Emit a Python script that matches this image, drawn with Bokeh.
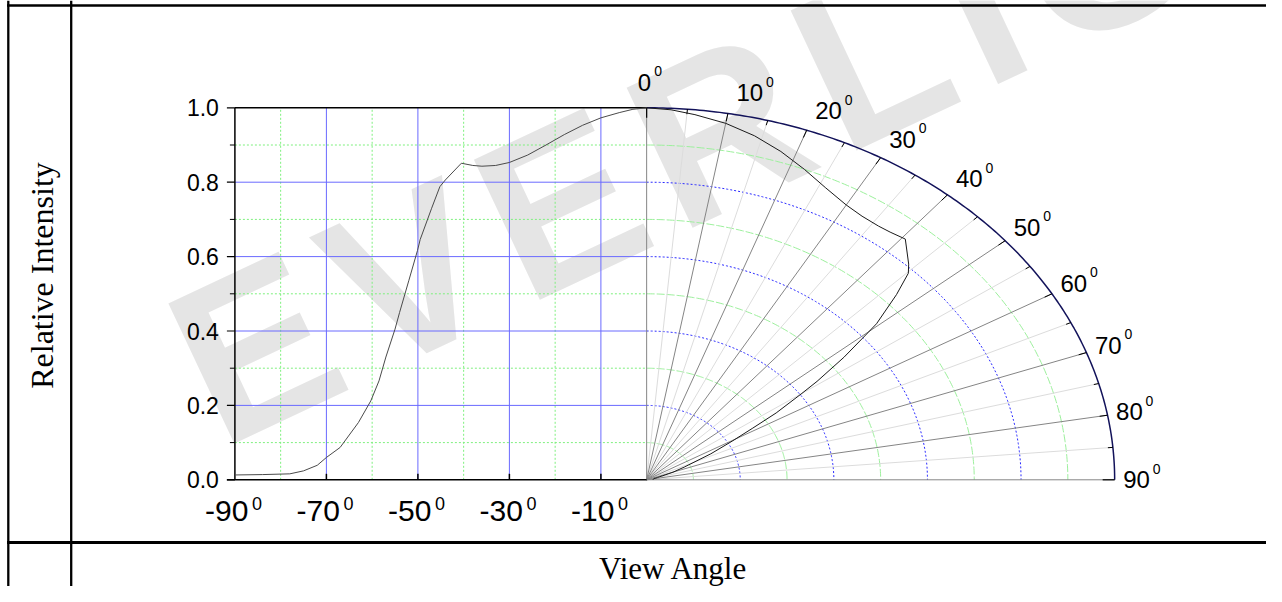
import numpy as np
from bokeh.plotting import figure
from bokeh.models import Range1d
from bokeh.core.properties import value
from bokeh.embed import file_html
from bokeh.resources import INLINE

# ---------------- data ----------------
angle_deg = [0, 3, 6, 10, 14, 18, 22, 26, 30, 33, 36, 38, 40.5, 44, 45.2, 47,
             49.5, 50.1, 52, 54, 55, 57, 58.5, 60.3, 63, 67, 70, 72, 75, 78, 84, 90]
intensity = [1.000, 0.996, 0.987, 0.973, 0.953, 0.928, 0.900, 0.873, 0.853, 0.845,
             0.843, 0.845, 0.851, 0.806, 0.788, 0.730, 0.646, 0.616, 0.535, 0.450,
             0.405, 0.330, 0.266, 0.212, 0.154, 0.087, 0.060, 0.039, 0.024, 0.016,
             0.014, 0.013]

y_ticks = [0.0, 0.2, 0.4, 0.6, 0.8, 1.0]
y_tick_labels = ["0.0", "0.2", "0.4", "0.6", "0.8", "1.0"]
y_minor = [0.1, 0.3, 0.5, 0.7, 0.9]
x_ticks = [-90, -70, -50, -30, -10]
x_tick_labels = ["-90", "-70", "-50", "-30", "-10"]
x_minor = [-80, -60, -40, -20]
polar_angles = [0, 10, 20, 30, 40, 50, 60, 70, 80, 90]
polar_labels = ["0", "10", "20", "30", "40", "50", "60", "70", "80", "90"]
polar_minor = [5, 15, 25, 35, 45, 55, 65, 75, 85]
rings_major = [0.2, 0.4, 0.6, 0.8]
rings_minor = [0.1, 0.3, 0.5, 0.7, 0.9]
degree_mark = "0"
y_title = "Relative Intensity"
x_title = "View Angle"
watermark = "EVERLIGHT"

# ---------------- layout ----------------
W, H = 1266, 586
SX = 4.575          # px per degree (cartesian part)
SY = 372.0          # px per intensity unit
X90_PX = 234.4      # x pixel of -90
Y1_PX = 107.3       # y pixel of 1.0
RX = 468.0          # polar horizontal radius, px
KX = RX / SX        # polar horizontal radius in data units

x_start = -90 - X90_PX / SX
x_end = x_start + W / SX
y_end = 1 + Y1_PX / SY
y_start = y_end - H / SY


def px2x(px):
    return x_start + px / SX


def px2y(py):
    return y_end - py / SY


p = figure(width=W, height=H, output_backend="svg", toolbar_location=None,
           x_range=Range1d(x_start, x_end), y_range=Range1d(y_start, y_end),
           x_axis_location=None, y_axis_location=None, title=None,
           min_border=0, outline_line_color=None)
p.grid.visible = False
p.background_fill_color = "white"
p.border_fill_color = "white"

SANS = value("Liberation Sans")
SERIF = value("Liberation Serif")
MID = "middle"

# watermark
p.text(x=[px2x(187)], y=[px2y(379)], text=["\u200a".join(watermark)], angle=0.44,
       text_font=SANS, text_font_style="bold", text_font_size="225px",
       text_color="#e5e5e5", text_align="left", text_baseline=MID)

# ---------------- cartesian grid ----------------
p.segment(x0=x_minor, y0=[0] * len(x_minor), x1=x_minor, y1=[1] * len(x_minor),
          line_color="#7ef07e", line_width=1, line_dash="2 2")
p.segment(x0=[-90] * len(y_minor), y0=y_minor, x1=[0] * len(y_minor), y1=y_minor,
          line_color="#7ef07e", line_width=1, line_dash="2 2")
xb = x_ticks[1:]
p.segment(x0=xb, y0=[0] * len(xb), x1=xb, y1=[1] * len(xb),
          line_color="#6a6aff", line_width=1)
yb = y_ticks[1:-1]
p.segment(x0=[-90] * len(yb), y0=yb, x1=[0] * len(yb), y1=yb,
          line_color="#6a6aff", line_width=1)

# ---------------- polar grid ----------------
th = np.radians(np.linspace(0, 90, 181))
p.multi_line(xs=[list(KX * r * np.sin(th)) for r in rings_minor],
             ys=[list(r * np.cos(th)) for r in rings_minor],
             line_color="#9cf09c", line_width=1, line_dash="8 2")
p.multi_line(xs=[list(KX * r * np.sin(th)) for r in rings_major],
             ys=[list(r * np.cos(th)) for r in rings_major],
             line_color="#2a2aff", line_width=1, line_dash="2 2")
pm = np.radians(polar_minor)
p.segment(x0=[0] * len(pm), y0=[0] * len(pm), x1=list(KX * np.sin(pm)), y1=list(np.cos(pm)),
          line_color="#dcdcdc", line_width=1)
pa = np.radians(polar_angles)
p.segment(x0=[0] * len(pa), y0=[0] * len(pa), x1=list(KX * np.sin(pa)), y1=list(np.cos(pa)),
          line_color="#858585", line_width=1)
p.line(x=list(KX * np.sin(th)), y=list(np.cos(th)), line_color="#12125a", line_width=1.5)


def arc_ticks(angles, length):
    a = np.radians(angles)
    px_ = RX * np.sin(a)
    py_ = SY * np.cos(a)
    n = np.hypot(px_, py_)
    ix = px_ - length * px_ / n
    iy = py_ - length * py_ / n
    return list(px_ / SX), list(py_ / SY), list(ix / SX), list(iy / SY)


x0t, y0t, x1t, y1t = arc_ticks(polar_angles[1:-1], 8)
p.segment(x0=x0t, y0=y0t, x1=x1t, y1=y1t, line_color="black", line_width=1)
x0t, y0t, x1t, y1t = arc_ticks(polar_minor, 5)
p.segment(x0=x0t, y0=y0t, x1=x1t, y1=y1t, line_color="black", line_width=1)
# 0 and 90 degree end ticks
p.segment(x0=[0, KX], y0=[1, 0], x1=[0, KX - 12 / SX], y1=[1 - 10 / SY, 0],
          line_color="black", line_width=1.2)

# ---------------- cartesian frame and ticks ----------------
p.segment(x0=[-90, -90, -90 - 8 / SX], y0=[0, 1, 0], x1=[-90, 0, 0], y1=[1, 1, 0],
          line_color="black", line_width=1.5)
p.segment(x0=[-90] * len(y_ticks), y0=y_ticks, x1=[-90 - 8 / SX] * len(y_ticks), y1=y_ticks,
          line_color="black", line_width=1.2)
p.segment(x0=[-90] * len(y_minor), y0=y_minor, x1=[-90 - 5 / SX] * len(y_minor), y1=y_minor,
          line_color="black", line_width=1)
p.segment(x0=xb, y0=[0] * len(xb), x1=xb, y1=[6 / SY] * len(xb),
          line_color="black", line_width=1.5)

# ---------------- curves ----------------
ang = np.radians(angle_deg)
inten = np.array(intensity)
p.line(x=[-a for a in angle_deg], y=intensity, line_color="#4a4a4a", line_width=1)
p.line(x=list(KX * inten * np.sin(ang)), y=list(inten * np.cos(ang)),
       line_color="#1a1a1a", line_width=1)

# ---------------- tick labels ----------------
p.text(x=[-90] * len(y_ticks), y=y_ticks, text=y_tick_labels,
       text_font=SANS, text_font_size="23px", text_align="right",
       text_baseline=MID, x_offset=-16, y_offset=0, text_color="black")

p.text(x=x_ticks, y=[0] * len(x_ticks), text=x_tick_labels, text_font=SANS,
       text_font_size="30px", text_align="right", text_baseline=MID,
       x_offset=13.5, y_offset=31.2, text_color="black")
p.text(x=x_ticks, y=[0] * len(x_ticks), text=[degree_mark] * len(x_ticks), text_font=SANS,
       text_font_size="18px", text_align="left", text_baseline=MID,
       x_offset=17, y_offset=24.1, text_color="black")

# polar labels
lx, ly, nx_off, ny_off, sx_off, sy_off = [], [], [], [], [], []
for a, lab in zip(polar_angles, polar_labels):
    r = np.radians(a)
    lx.append(KX * np.sin(r))
    ly.append(np.cos(r))
    if a == 0:
        xo, cy = -9.0, -25.7
    else:
        xo, cy = 8.5, -21.0 * np.cos(r)
    nx_off.append(xo)
    ny_off.append(cy)
    w = 13.0 if len(lab) == 1 else 26.0
    sx_off.append(xo + w + 3.5)
    sy_off.append(cy - 11.0)

p.text(x=lx, y=ly, text=polar_labels, text_font=SANS, text_font_size="24px",
       text_align="left", text_baseline=MID, x_offset=nx_off, y_offset=ny_off,
       text_color="black")
p.text(x=lx, y=ly, text=[degree_mark] * len(lx), text_font=SANS, text_font_size="14px",
       text_align="left", text_baseline=MID, x_offset=sx_off, y_offset=sy_off,
       text_color="black")

# ---------------- titles ----------------
p.text(x=[px2x(41)], y=[px2y(275)], text=[y_title], angle=np.pi / 2, text_font=SERIF,
       text_font_size="32px", text_align="center", text_baseline=MID,
       text_color="black")
p.text(x=[px2x(673)], y=[px2y(568)], text=[x_title], text_font=SERIF,
       text_font_size="31px", text_align="center", text_baseline=MID,
       text_color="black")

# ---------------- table borders ----------------
p.segment(x0=[px2x(7.8), px2x(70.7)], y0=[px2y(0), px2y(0)],
          x1=[px2x(7.8), px2x(70.7)], y1=[px2y(H), px2y(H)],
          line_color="black", line_width=2.3)
p.segment(x0=[px2x(6.5), px2x(6.5)], y0=[px2y(5), px2y(542)],
          x1=[px2x(W), px2x(W)], y1=[px2y(5), px2y(542)],
          line_color="black", line_width=[2.3, 3])

open("out.html", "w").write(file_html(p, INLINE))
